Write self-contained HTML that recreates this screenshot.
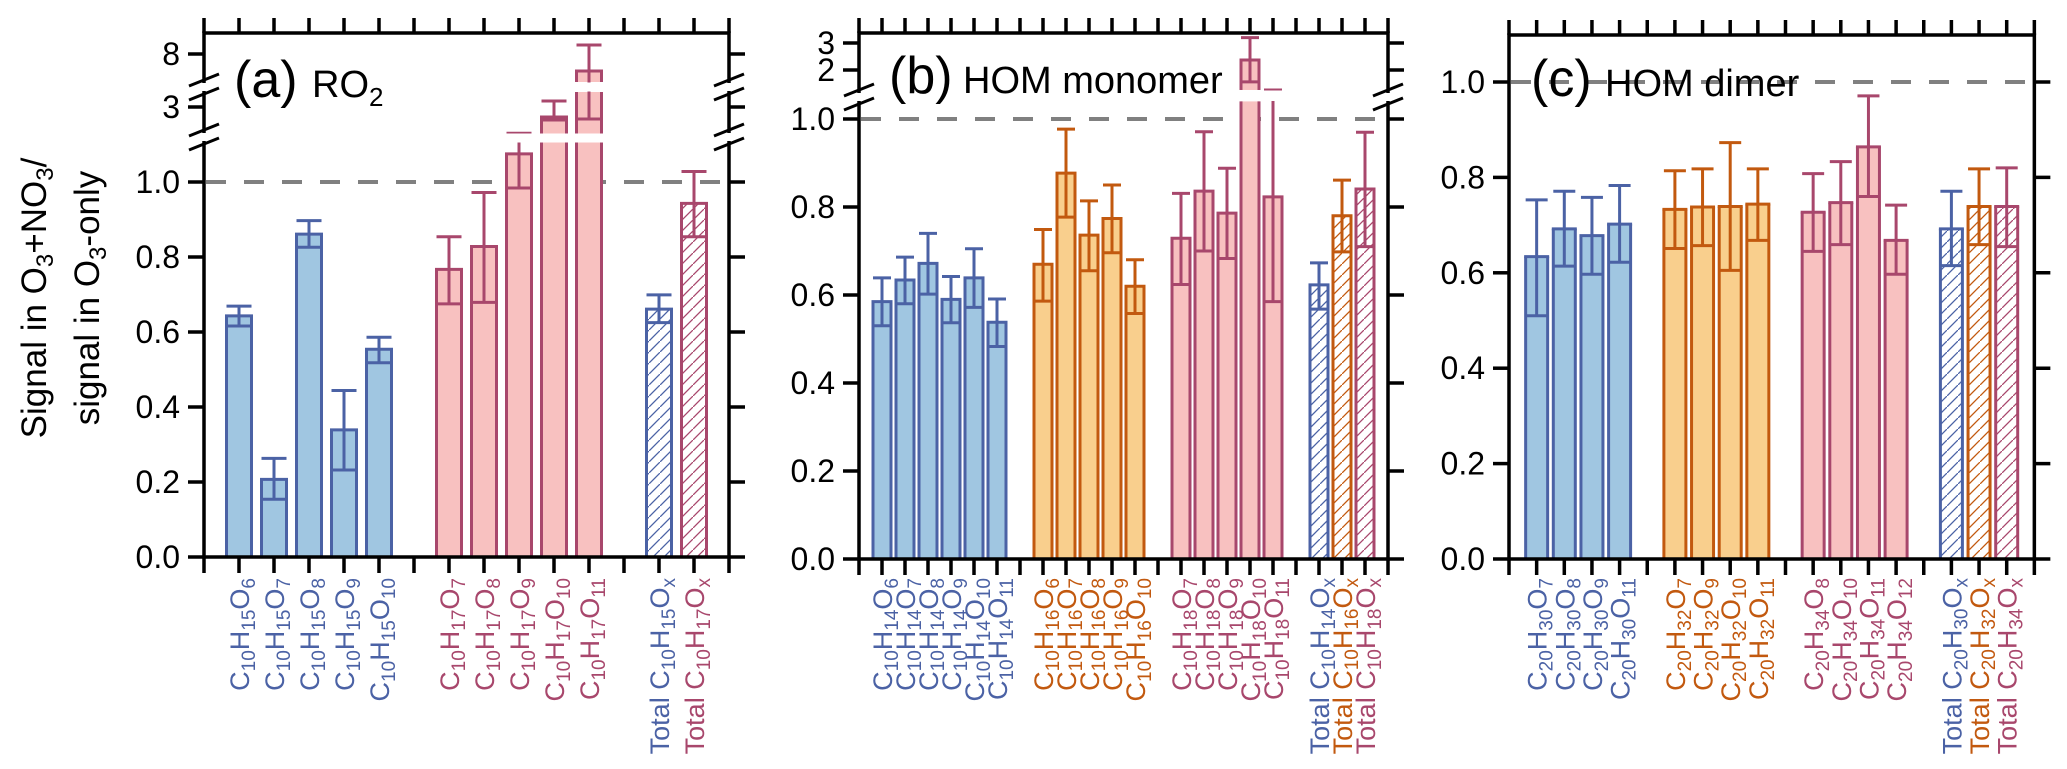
<!DOCTYPE html>
<html><head><meta charset="utf-8"><style>
html,body{margin:0;padding:0;background:#fff;}
svg{display:block;font-family:"Liberation Sans",Arial,sans-serif;}
</style></head><body>
<svg id="chart" width="2067" height="769" viewBox="0 0 2067 769" xmlns="http://www.w3.org/2000/svg">
<defs>
<pattern id="hb" patternUnits="userSpaceOnUse" width="11" height="11"><path d="M-1,12 L12,-1" stroke="#4b62a5" stroke-width="1.3"/></pattern>
<pattern id="ho" patternUnits="userSpaceOnUse" width="11" height="11"><path d="M-1,12 L12,-1" stroke="#c2590f" stroke-width="1.3"/></pattern>
<pattern id="hp" patternUnits="userSpaceOnUse" width="11" height="11"><path d="M-1,12 L12,-1" stroke="#a8476c" stroke-width="1.3"/></pattern>
</defs>
<text transform="translate(46,298) rotate(-90)" text-anchor="middle" font-size="35">Signal in O<tspan font-size="24" dy="7">3</tspan><tspan dy="-7">+NO</tspan><tspan font-size="24" dy="7">3</tspan><tspan dy="-7">/</tspan></text>
<text transform="translate(99,298) rotate(-90)" text-anchor="middle" font-size="35">signal in O<tspan font-size="24" dy="7">3</tspan><tspan dy="-7">-only</tspan></text>
</svg>
<script>
// ---- Panel (a) RO2 data ----
const A_cats = ["C_{10}H_{15}O_6","C_{10}H_{15}O_7","C_{10}H_{15}O_8","C_{10}H_{15}O_9","C_{10}H_{15}O_{10}","C_{10}H_{17}O_7","C_{10}H_{17}O_8","C_{10}H_{17}O_9","C_{10}H_{17}O_{10}","C_{10}H_{17}O_{11}","Total C_{10}H_{15}O_x","Total C_{10}H_{17}O_x"];
const A_vals = [0.643,0.207,0.861,0.339,0.554,0.767,0.828,1.075,2.5,6.3,0.661,0.943];
const A_lo   = [0.616,0.154,0.826,0.232,0.518,0.675,0.679,0.984,2.35,2.4,0.625,0.854];
const A_hi   = [0.669,0.263,0.897,0.444,0.586,0.854,0.972,1.13,3.3,8.9,0.699,1.028];
const A_grp  = ["b","b","b","b","b","p","p","p","p","p","tb","tp"];
const A_slot = [1,2,3,4,5,7,8,9,10,11,13,14];
const A_ticks = [0,0.2,0.4,0.6,0.8,1.0,3,8];
const A_tickLabels = ["0.0","0.2","0.4","0.6","0.8","1.0","3","8"];
// ---- Panel (b) HOM monomer data ----
const B_cats = ["C_{10}H_{14}O_6","C_{10}H_{14}O_7","C_{10}H_{14}O_8","C_{10}H_{14}O_9","C_{10}H_{14}O_{10}","C_{10}H_{14}O_{11}","C_{10}H_{16}O_6","C_{10}H_{16}O_7","C_{10}H_{16}O_8","C_{10}H_{16}O_9","C_{10}H_{16}O_{10}","C_{10}H_{18}O_7","C_{10}H_{18}O_8","C_{10}H_{18}O_9","C_{10}H_{18}O_{10}","C_{10}H_{18}O_{11}","Total C_{10}H_{14}O_x","Total C_{10}H_{16}O_x","Total C_{10}H_{18}O_x"];
const B_vals = [0.585,0.634,0.672,0.590,0.639,0.538,0.670,0.877,0.736,0.774,0.620,0.729,0.836,0.786,2.37,0.823,0.623,0.780,0.841];
const B_lo   = [0.530,0.580,0.602,0.537,0.572,0.483,0.586,0.777,0.655,0.696,0.558,0.624,0.700,0.683,1.56,0.585,0.568,0.698,0.710];
const B_hi   = [0.639,0.686,0.740,0.642,0.705,0.591,0.749,0.977,0.814,0.850,0.680,0.831,0.971,0.888,3.2,1.26,0.673,0.861,0.970];
const B_grp  = ["b","b","b","b","b","b","o","o","o","o","o","p","p","p","p","p","tb","to","tp"];
const B_slot = [1,2,3,4,5,6,8,9,10,11,12,14,15,16,17,18,20,21,22];
const B_ticks = [0,0.2,0.4,0.6,0.8,1.0,2,3];
const B_tickLabels = ["0.0","0.2","0.4","0.6","0.8","1.0","2","3"];
// ---- Panel (c) HOM dimer data ----
const C_cats = ["C_{20}H_{30}O_7","C_{20}H_{30}O_8","C_{20}H_{30}O_9","C_{20}H_{30}O_{11}","C_{20}H_{32}O_7","C_{20}H_{32}O_9","C_{20}H_{32}O_{10}","C_{20}H_{32}O_{11}","C_{20}H_{34}O_8","C_{20}H_{34}O_{10}","C_{20}H_{34}O_{11}","C_{20}H_{34}O_{12}","Total C_{20}H_{30}O_x","Total C_{20}H_{32}O_x","Total C_{20}H_{34}O_x"];
const C_vals = [0.634,0.692,0.678,0.702,0.733,0.738,0.739,0.744,0.727,0.747,0.864,0.668,0.692,0.739,0.739];
const C_lo   = [0.510,0.614,0.597,0.622,0.651,0.657,0.605,0.668,0.645,0.659,0.760,0.597,0.615,0.659,0.655];
const C_hi   = [0.753,0.771,0.758,0.783,0.814,0.818,0.873,0.818,0.808,0.833,0.971,0.742,0.771,0.818,0.820];
const C_grp  = ["b","b","b","b","o","o","o","o","p","p","p","p","tb","to","tp"];
const C_slot = [1,2,3,4,6,7,8,9,11,12,13,14,16,17,18];
const C_ticks = [0,0.2,0.4,0.6,0.8,1.0];
const C_tickLabels = ["0.0","0.2","0.4","0.6","0.8","1.0"];

const NS="http://www.w3.org/2000/svg";
const svg=document.getElementById('chart');
const STROKE={b:"#4b62a5",o:"#c2590f",p:"#a8476c"};
const FILL={b:"#a0c6e1",o:"#f9cf8d",p:"#f8c1c0"};
function mk(tag,attrs,parent){const e=document.createElementNS(NS,tag);for(const k in attrs)e.setAttribute(k,attrs[k]);(parent||svg).appendChild(e);return e;}

const panels=[
 {id:"a",left:204,slot:35,n:15,top:33,segs:[{v0:0,v1:1.13,y0:557,k:375},{v0:1.2,v1:3.75,y0:107,ref:3,k:20},{v0:5.2,v1:10.1,y0:54,ref:8,k:10}],
  gaps:[[133.5,142.5],[82.5,91.5]],breaks:[137,87],cats:A_cats,vals:A_vals,lo:A_lo,hi:A_hi,grp:A_grp,slots:A_slot,ticks:A_ticks,tl:A_tickLabels,bw:25,
  title:"(a)",sub:"RO",sub2:"2",tx:234,ty:97,showY:true},
 {id:"b",left:859,slot:23,n:23,top:33,segs:[{v0:0,v1:1.04,y0:559,k:440},{v0:1.26,v1:3.37,y0:70,ref:2,k:27}],
  gaps:[[90.5,101]],breaks:[97],cats:B_cats,vals:B_vals,lo:B_lo,hi:B_hi,grp:B_grp,slots:B_slot,ticks:B_ticks,tl:B_tickLabels,bw:18,
  title:"(b)",sub:"HOM monomer",tx:889,ty:93,showY:true},
 {id:"c",left:1509,slot:27.65,n:19,top:35,segs:[{v0:0,v1:1.1,y0:559,k:477}],
  gaps:[],breaks:[],cats:C_cats,vals:C_vals,lo:C_lo,hi:C_hi,grp:C_grp,slots:C_slot,ticks:C_ticks,tl:C_tickLabels,bw:22,
  title:"(c)",sub:"HOM dimer",tx:1531,ty:96,showY:true}
];
function segY(s,v){return s.ref===undefined? s.y0 - v*s.k : s.y0-(v-s.ref)*s.k;}
function yOf(p,v){
  const S=p.segs;
  for(let i=0;i<S.length;i++){ if(v>=S[i].v0-1e-9 && v<=S[i].v1+1e-9) return segY(S[i],v); }
  for(let i=S.length-1;i>=0;i--){ if(v>S[i].v1) return segY(S[i],S[i].v1); }
  return segY(S[0],0);
}
function fmtLabel(t,str){
  // parse _x or _{..} subscripts
  let i=0,html="",shifted=false;
  while(i<str.length){
    if(str[i]==="_"){let s;if(str[i+1]==="{"){const j=str.indexOf("}",i);s=str.slice(i+2,j);i=j+1;}else{s=str[i+1];i+=2;}
      html+='<tspan font-size="19" dy="'+(shifted?0:6)+'">'+s+'</tspan>';shifted=true;}
    else{let j=i;while(j<str.length&&str[j]!=="_")j++;html+='<tspan dy="'+(shifted?-6:0)+'">'+str.slice(i,j)+'</tspan>';shifted=false;i=j;}
  }
  t.innerHTML=html;
}
panels.forEach(p=>{
  const g=mk('g',{});
  
  
  const right=p.left+p.n*p.slot;
  const bottom=yOf(p,0);
  const X=s=>p.left+s*p.slot;
  // reference line at 1.0
  const ref=mk('line',{x1:p.left,x2:right,y1:yOf(p,1),y2:yOf(p,1),stroke:"#808080","stroke-width":4,"stroke-dasharray":"20,18","stroke-dashoffset":"-40"},g);
  
  
  // bars
  p.vals.forEach((v,i)=>{
    const gr=p.grp[i],tot=gr[0]==="t",c=tot?gr[1]:gr;
    const cx=X(p.slots[i]),w=p.bw,x0=cx-w/2;
    const bg=mk('g',{},g);
    
    
    p.segs.forEach((s,si)=>{
      if(v<=s.v0)return;
      const vt=Math.min(v,s.v1),yt=yOf(p,vt),yb=segY(s,s.v0);
      mk('rect',{x:x0,y:yt,width:w,height:yb-yt,fill:tot?"url(#h"+c+")":FILL[c]},bg);
      mk('line',{x1:x0,x2:x0,y1:yt,y2:yb,stroke:STROKE[c],"stroke-width":3},bg);
      mk('line',{x1:x0+w,x2:x0+w,y1:yt,y2:yb,stroke:STROKE[c],"stroke-width":3},bg);
      if(vt===v) mk('line',{x1:x0-1.5,x2:x0+w+1.5,y1:yt,y2:yt,stroke:STROKE[c],"stroke-width":3},bg);
    });
    const yl=yOf(p,p.lo[i]),yh=yOf(p,p.hi[i]);
    const eb=mk('g',{stroke:STROKE[c],"stroke-width":3},g);
    
    
    mk('line',{x1:cx,x2:cx,y1:yl,y2:yh},eb);
    mk('line',{x1:x0,x2:x0+w,y1:yh,y2:yh},eb);
    mk('line',{x1:x0,x2:x0+w,y1:yl,y2:yl},eb);
    // x label
    const t=mk('text',{transform:"translate("+(cx+10)+",578) rotate(-90)","text-anchor":"end","font-size":27,fill:STROKE[c]},g);
    
    
    fmtLabel(t,p.cats[i]);
  });
  // gap bands
  p.gaps.forEach(gp=>{mk('rect',{x:p.left+2,y:gp[0],width:right-p.left-4,height:gp[1]-gp[0],fill:"#fff"},g);});
  // frame
  const fr=mk('path',{d:"M"+p.left+","+p.top+"H"+right+"V"+bottom+"H"+p.left+"Z",fill:"none",stroke:"#000","stroke-width":3.5},g);
  
  
  // x ticks top & bottom
  for(let s=0;s<=p.n;s++){
    const x=X(s);
    mk('line',{x1:x,x2:x,y1:p.top,y2:p.top-15,stroke:"#000","stroke-width":3.5},g);
    mk('line',{x1:x,x2:x,y1:bottom,y2:bottom+16,stroke:"#000","stroke-width":3.5},g);
  }
  // y ticks
  p.ticks.forEach((v,i)=>{
    const y=yOf(p,v);
    mk('line',{x1:p.left,x2:p.left-16,y1:y,y2:y,stroke:"#000","stroke-width":3.5},g);
    mk('line',{x1:right,x2:right+16,y1:y,y2:y,stroke:"#000","stroke-width":3.5},g);
    const tl=mk('text',{x:p.left-24,y:y+11,"text-anchor":"end","font-size":32},g);
    
    
    tl.textContent=p.tl[i];
  });
  // axis breaks
  p.breaks.forEach(yb=>{
    [p.left,right].forEach(ax=>{
      mk('rect',{x:ax-3,y:yb-4,width:6,height:8,fill:"#fff"},g);
      mk('line',{x1:ax-15,x2:ax+15,y1:yb-1,y2:yb-13,stroke:"#000","stroke-width":3},g);
      mk('line',{x1:ax-15,x2:ax+15,y1:yb+13,y2:yb+1,stroke:"#000","stroke-width":3},g);
    });
  });
  // panel title
  const tt=mk('text',{x:p.tx,y:p.ty,"font-size":52},g);
  
  
  tt.textContent=p.title;
  const st=mk('text',{x:p.tx+(p.id==="a"?78:74),y:p.ty,"font-size":38},g);
  
  
  st.innerHTML=p.sub+(p.sub2?'<tspan font-size="26" dy="9">'+p.sub2+'</tspan>':'');
});
</script>
</body></html>
